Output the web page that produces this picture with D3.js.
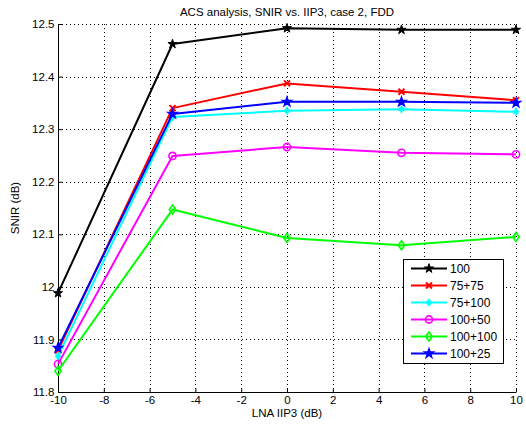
<!DOCTYPE html>
<html><head><meta charset="utf-8">
<script src="https://cdn.jsdelivr.net/npm/d3@7"></script>
<style>body{margin:0;background:#fff}svg{display:block}text{font-family:"Liberation Sans",Arial,sans-serif;}</style>
</head><body><svg id="c" width="526" height="428"></svg>
<script>
const xValues = [-10, -5, 0, 5, 10];
const seriesNames = ["100", "75+75", "75+100", "100+50", "100+100", "100+25"];
const s100     = [11.988, 12.462, 12.492, 12.489, 12.489];
const s75_75   = [11.879, 12.340, 12.387, 12.371, 12.355];
const s75_100  = [11.868, 12.323, 12.335, 12.338, 12.333];
const s100_50  = [11.853, 12.249, 12.266, 12.255, 12.252];
const s100_100 = [11.840, 12.147, 12.093, 12.079, 12.095];
const s100_25  = [11.884, 12.329, 12.352, 12.352, 12.350];
const xTicks = [-10, -8, -6, -4, -2, 0, 2, 4, 6, 8, 10];
const yTicks = [11.8, 11.9, 12, 12.1, 12.2, 12.3, 12.4, 12.5];

const seriesData = [s100, s75_75, s75_100, s100_50, s100_100, s100_25];
const colors = ["#000000", "#ff0000", "#00ffff", "#ff00ff", "#00ff00", "#0000ff"];
const markers = ["star", "x", "plus", "circle", "diamond", "hex"];

const svg = d3.select("#c");
const L = 58, R = 516, T = 24, B = 392;
const x = d3.scaleLinear().domain([-10, 10]).range([L, R]);
const y = d3.scaleLinear().domain([11.8, 12.5]).range([B, T]);

// grid
const g = svg.append("g");
g.selectAll(".gx").data(xTicks.slice(1)).enter().append("line")
  .attr("x1", d => Math.round(x(d)) + 0.5).attr("x2", d => Math.round(x(d)) + 0.5)
  .attr("y1", T).attr("y2", B).attr("stroke", "#000").attr("stroke-width", 1).attr("stroke-dasharray", "1,3");
g.selectAll(".gy").data(yTicks.slice(1)).enter().append("line")
  .attr("y1", d => Math.round(y(d)) + 0.5).attr("y2", d => Math.round(y(d)) + 0.5)
  .attr("x1", L).attr("x2", R).attr("stroke", "#000").attr("stroke-width", 1).attr("stroke-dasharray", "1,3");

// axes
const xAxis = d3.axisBottom(x).tickValues(xTicks).tickSize(-4).tickPadding(3).tickFormat(d => String(d));
const yAxis = d3.axisLeft(y).tickValues(yTicks).tickSize(-4).tickPadding(4).tickFormat(d => String(+d.toFixed(1)));
const ax = svg.append("g").attr("transform", `translate(0,${B + 0.5})`).call(xAxis);
const ay = svg.append("g").attr("transform", `translate(${L + 0.5},0)`).call(yAxis);
[ax, ay].forEach(a => {
  a.select(".domain").attr("stroke", "#000").attr("stroke-width", 1).attr("d", a === ax ? `M${L},0H${R}` : `M0,${B}V${T}`);
  a.selectAll(".tick line").attr("stroke", "#000");
  a.selectAll("text").attr("font-size", 11.5).attr("fill", "#000").attr("font-family", '"Liberation Sans",Arial,sans-serif');
});

function marker(sel, type, color) {
  const s = 3;
  if (type === "star") {
    sel.append("path").attr("d", d3.symbol(d3.symbolStar, 26)()).attr("fill", color).attr("stroke", color).attr("stroke-width", 1);
  } else if (type === "x") {
    sel.append("path").attr("d", `M${-s},${-s}L${s},${s}M${-s},${s}L${s},${-s}`).attr("stroke", color).attr("stroke-width", 2);
  } else if (type === "plus") {
    sel.append("path").attr("d", `M${-s},0H${s}M0,${-4}V${4}M-2,-2L2,2M-2,2L2,-2`).attr("stroke", color).attr("stroke-width", 1.6);
  } else if (type === "circle") {
    sel.append("circle").attr("r", 3.6).attr("fill", "none").attr("stroke", color).attr("stroke-width", 1.6);
  } else if (type === "diamond") {
    sel.append("path").attr("d", `M0,-4.5L3.2,0L0,4.5L-3.2,0Z`).attr("fill", "none").attr("stroke", color).attr("stroke-width", 1.6);
  } else {
    sel.append("path").attr("d", d3.symbol(d3.symbolStar, 24)()).attr("fill", color).attr("stroke", color).attr("stroke-width", 1.5);
    sel.append("circle").attr("r", 2.6).attr("fill", color);
  }
}

const line = d3.line().x((d, i) => x(xValues[i])).y(d => y(d));
seriesData.forEach((vals, k) => {
  const grp = svg.append("g");
  grp.append("path").attr("d", line(vals)).attr("fill", "none").attr("stroke", colors[k])
    .attr("stroke-width", 2).attr("stroke-linejoin", "round");
  vals.forEach((v, i) => {
    const m = grp.append("g").attr("transform", `translate(${x(xValues[i])},${y(v)})`);
    marker(m, markers[k], colors[k]);
  });
});

// title and labels
svg.append("text").attr("x", 287).attr("y", 16).attr("text-anchor", "middle").attr("font-size", 11.5)
  .text("ACS analysis, SNIR vs. IIP3, case 2, FDD");
svg.append("text").attr("x", 287).attr("y", 417).attr("text-anchor", "middle").attr("font-size", 11.5)
  .text("LNA IIP3 (dB)");
svg.append("text").attr("transform", "translate(19,208) rotate(-90)").attr("text-anchor", "middle").attr("font-size", 11.5)
  .text("SNIR (dB)");

// legend
const lg = svg.append("g");
lg.append("rect").attr("x", 403.5).attr("y", 259.5).attr("width", 100).attr("height", 104)
  .attr("fill", "#fff").attr("stroke", "#000").attr("stroke-width", 1);
seriesNames.forEach((name, k) => {
  const yy = 268.5 + k * 17;
  lg.append("line").attr("x1", 411).attr("x2", 447).attr("y1", yy).attr("y2", yy).attr("stroke", colors[k]).attr("stroke-width", 2);
  const m = lg.append("g").attr("transform", `translate(429,${yy})`);
  marker(m, markers[k], colors[k]);
  lg.append("text").attr("x", 450).attr("y", yy + 4.5).attr("font-size", 12).text(name);
});
</script></body></html>
